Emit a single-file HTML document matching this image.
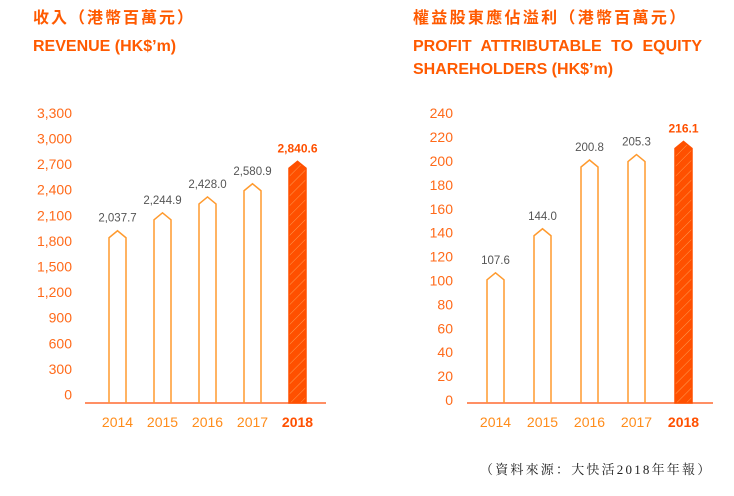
<!DOCTYPE html>
<html><head><meta charset="utf-8"><style>
body{margin:0;background:#fff;width:734px;height:496px;overflow:hidden}
svg{display:block}
.t{font-family:"Liberation Sans","Noto Sans CJK TC",sans-serif;font-weight:bold;fill:#ff5a00}
</style></head><body>
<svg width="734" height="496" viewBox="0 0 734 496">
<defs>
<pattern id="hatch" width="7" height="7" patternUnits="userSpaceOnUse" patternTransform="rotate(45)">
<rect width="7" height="7" fill="#ff5000"/><line x1="0" y1="0" x2="0" y2="7" stroke="#ff9a50" stroke-width="1"/>
</pattern>
</defs>
<text class="t" x="33" y="23" font-size="16" letter-spacing="2">收入（港幣百萬元）</text>
<text class="t" x="33" y="51" font-size="16">REVENUE (HK$’m)</text>
<text class="t" x="413" y="23" font-size="16" letter-spacing="2.3">權益股東應佔溢利（港幣百萬元）</text>
<text class="t" x="413" y="51" font-size="16" word-spacing="5">PROFIT ATTRIBUTABLE TO EQUITY</text>
<text class="t" x="413" y="74" font-size="16">SHAREHOLDERS (HK$’m)</text>
<g id="left"></g>
<g id="right"></g>
<text x="480" y="474" font-size="13" letter-spacing="2.2" fill="#222" font-family="'Liberation Serif','Noto Serif CJK SC',serif">（資料來源：大快活2018年年報）</text>
</svg>
<script>
const years=["2014","2015","2016","2017","2018"];
const revenue=[2037.7,2244.9,2428.0,2580.9,2840.6];
const revenueLabels=["2,037.7","2,244.9","2,428.0","2,580.9","2,840.6"];
const revTicks=[0,300,600,900,1200,1500,1800,2100,2400,2700,3000,3300];
const revTickLabels=["0","300","600","900","1,200","1,500","1,800","2,100","2,400","2,700","3,000","3,300"];
const profit=[107.6,144.0,200.8,205.3,216.1];
const profitLabels=["107.6","144.0","200.8","205.3","216.1"];
const profTicks=[0,20,40,60,80,100,120,140,160,180,200,220,240];
const NS="http://www.w3.org/2000/svg";
function mk(p,tag,a){const e=document.createElementNS(NS,tag);for(const k in a)e.setAttribute(k,a[k]);p.appendChild(e);return e;}
function chart(g,vals,labels,ticks,tickLabels,o){
  const tickY=v=>o.tick0-v*o.tickScale;
  const barY=v=>o.zero-v*o.barScale;
  ticks.forEach((t,i)=>{const e=mk(g,'text',{x:o.tickX,y:tickY(t)+5,'text-anchor':'end','font-size':14,fill:'#ff6a1a','font-family':'Liberation Sans,sans-serif'});e.textContent=tickLabels[i];
  
  });
  const ax=mk(g,'line',{x1:o.ax0,x2:o.ax1,y1:o.base,y2:o.base,stroke:'#ff6a30','stroke-width':1.5});
  
  
  vals.forEach((v,i)=>{
    const cx=o.x0+i*o.step, w=17, top=barY(v), last=i===vals.length-1;
    const d=`M${cx-w/2},${o.base} V${top+7} L${cx},${top} L${cx+w/2},${top+7} V${o.base}`;
    const b=mk(g,'path',{d:last?d+'Z':d,fill:last?'url(#hatch)':'none',stroke:last?'#ff5000':'#ff9a2e','stroke-width':1.5});
    
    
    const l=mk(g,'text',{x:cx,y:top-9,'text-anchor':'middle','font-size':last?12:11.5,'font-weight':last?'bold':'normal',fill:last?'#ff5000':'#555','font-family':'Liberation Sans,sans-serif'});
    l.textContent=labels[i];
    
    
    const y=mk(g,'text',{x:cx,y:427,'text-anchor':'middle','font-size':14,'font-weight':last?'bold':'normal',fill:last?'#ff5000':'#ff8c1a','font-family':'Liberation Sans,sans-serif'});
    y.textContent=years[i];
    
    
  });
}
chart(document.getElementById('left'),revenue,revenueLabels,revTicks,revTickLabels,{tick0:394.5,tickScale:25.6/300,base:403,zero:407,barScale:0.0865,tickX:72,ax0:85,ax1:326,x0:117.5,step:45});
chart(document.getElementById('right'),profit,profitLabels,profTicks,profTicks.map(String),{tick0:400,tickScale:1.195,base:403,zero:403,barScale:1.21,tickX:453,ax0:467,ax1:713,x0:495.5,step:47});
</script>
</body></html>
